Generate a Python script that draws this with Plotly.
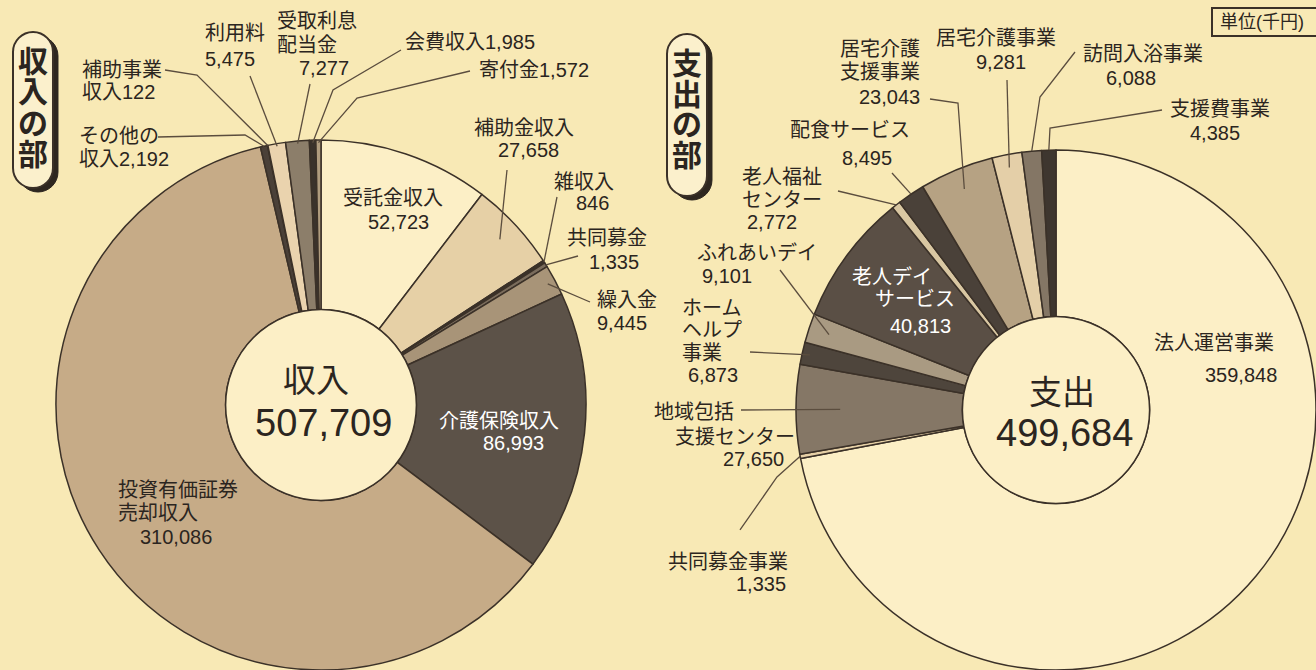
import math
import plotly.graph_objects as go

W, H = 1316, 670

# ---------------- data ----------------
income_labels = ["受託金収入", "補助金収入", "雑収入", "共同募金", "繰入金", "介護保険収入",
                 "投資有価証券売却収入", "その他の収入", "補助事業収入", "利用料",
                 "受取利息配当金", "会費収入", "寄付金"]
income_values = [52723, 27658, 846, 1335, 9445, 86993, 310086, 2192, 122, 5475, 7277, 1985, 1572]
income_title = "収入"
income_total = 507709

expense_labels = ["法人運営事業", "共同募金事業", "地域包括支援センター", "ホームヘルプ事業",
                  "ふれあいデイ", "老人デイサービス", "老人福祉センター", "配食サービス",
                  "居宅介護支援事業", "居宅介護事業", "訪問入浴事業", "支援費事業"]
expense_values = [359848, 1335, 27650, 6873, 9101, 40813, 2772, 8495, 23043, 9281, 6088, 4385]
expense_title = "支出"
expense_total = 499684

section_titles = ["収入の部", "支出の部"]
unit_label = "単位(千円)"

# ---------------- styles ----------------
BG = "#f8e9b5"
CREAM = "#fcefc6"
EDGE = "#3b3128"
TXT = "#2b2520"
LEAD = "#5b4d3e"
FONT = "Liberation Sans, Noto Sans CJK JP, sans-serif"

income_colors = ["#fcefc6", "#e6d0a6", "#3a322b", "#7a6c5c", "#a89478", "#5c5248",
                 "#c6ab87", "#4a4038", "#8a7a66", "#ead3ae", "#8c7e6a", "#3a322b", "#b09c7e"]
expense_colors = ["#fcefc6", "#e6d0a6", "#857766", "#4e453c", "#a99a82", "#5a4f45",
                  "#d9c7a2", "#4a4139", "#b6a283", "#e4cfa8", "#847665", "#3e362f"]

LEFT = dict(cx=321, cy=405, r=265)
RIGHT = dict(cx=1056, cy=410, r=260)
HOLE = 0.36


def px(x):
    return x / W


def py(y):
    return 1 - y / H


def domain(g):
    return dict(x=[max(0, (g["cx"] - g["r"]) / W), min(1, (g["cx"] + g["r"]) / W)],
                y=[max(0, (H - g["cy"] - g["r"]) / H), min(1, (H - g["cy"] + g["r"]) / H)])


def slice_point(g, values, i, f):
    tot = sum(values)
    cum = sum(values[:i]) + values[i] / 2
    a = 2 * math.pi * cum / tot
    return (g["cx"] + f * g["r"] * math.sin(a), g["cy"] - f * g["r"] * math.cos(a))


# label layout: text lines (text, x, y, anchor), leader path points, end radius factor
income_layout = {
    0: dict(lines=[("受託金収入", 393, 198, "center"), ("{v}", 398, 222, "center")]),
    1: dict(lines=[("補助金収入", 524, 128, "center"), ("{v}", 528, 150, "center")],
            path=[(507, 170)], f=0.92),
    2: dict(lines=[("雑収入", 584, 182, "center"), ("{v}", 592, 203, "center")],
            path=[(557, 197)], f=1.0),
    3: dict(lines=[("共同募金", 565, 238, "left"), ("{v}", 587, 262, "left")],
            path=[(578, 256)], f=1.0),
    4: dict(lines=[("繰入金", 595, 300, "left"), ("{v}", 595, 323, "left")],
            path=[(590, 302)], f=0.97),
    5: dict(lines=[("介護保険収入", 499, 421, "center"), ("{v}", 513, 443, "center")], color="#ffffff"),
    6: dict(lines=[("投資有価証券", 116, 490, "left"), ("売却収入", 116, 513, "left"),
                   ("{v}", 138, 537, "left")]),
    7: dict(lines=[("その他の", 77, 136, "left"), ("収入{v}", 77, 159, "left")],
            path=[(158, 137), (245, 135)], f=1.0),
    8: dict(lines=[("補助事業", 80, 70, "left"), ("収入{v}", 80, 92, "left")],
            path=[(165, 70), (197, 75)], f=1.0),
    9: dict(lines=[("利用料", 203, 33, "left"), ("{v}", 203, 59, "left")],
            path=[(250, 76)], f=0.99),
    10: dict(lines=[("受取利息", 275, 21, "left"), ("配当金", 275, 45, "left"), ("{v}", 297, 68, "left")],
             path=[(310, 84)], f=0.99),
    11: dict(lines=[("会費収入{v}", 403, 42, "left")],
             path=[(401, 50), (333, 90)], f=0.99),
    12: dict(lines=[("寄付金{v}", 477, 70, "left")],
             path=[(470, 71), (357, 98)], f=0.99),
}

expense_layout = {
    0: dict(lines=[("法人運営事業", 1214, 343, "center"), ("{v}", 1241, 375, "center")]),
    1: dict(lines=[("共同募金事業", 790, 562, "right"), ("{v}", 788, 584, "right")],
            path=[(740, 530), (777, 477)], f=1.0),
    2: dict(lines=[("地域包括", 652, 412, "left"), ("支援センター", 673, 437, "left"),
                   ("{v}", 786, 459, "right")],
            path=[(741, 410)], f=0.83),
    3: dict(lines=[("ホーム", 680, 308, "left"), ("ヘルプ", 680, 330, "left"),
                   ("事業", 680, 353, "left"), ("{v}", 686, 375, "left")],
            path=[(750, 352)], f=0.97),
    4: dict(lines=[("ふれあいデイ", 695, 253, "left"), ("{v}", 700, 276, "left")],
            path=[(780, 270)], f=0.92),
    5: dict(lines=[("老人デイ", 850, 277, "left"), ("サービス", 873, 299, "left"),
                   ("{v}", 888, 326, "left")], color="#ffffff"),
    6: dict(lines=[("老人福祉", 740, 177, "left"), ("センター", 740, 200, "left"),
                   ("{v}", 745, 222, "left")],
            path=[(838, 191)], f=1.0),
    7: dict(lines=[("配食サービス", 788, 130, "left"), ("{v}", 840, 158, "left")],
            path=[(892, 173)], f=1.0),
    8: dict(lines=[("居宅介護", 922, 49, "right"), ("支援事業", 922, 72, "right"),
                   ("{v}", 922, 97, "right")],
            path=[(930, 99), (958, 103)], f=0.92),
    9: dict(lines=[("居宅介護事業", 996, 38, "center"), ("{v}", 1001, 62, "center")],
            path=[(1007, 80)], f=0.95),
    10: dict(lines=[("訪問入浴事業", 1143, 54, "center"), ("{v}", 1131, 78, "center")],
             path=[(1075, 52), (1040, 97)], f=1.0),
    11: dict(lines=[("支援費事業", 1220, 109, "center"), ("{v}", 1215, 133, "center")],
             path=[(1162, 110), (1050, 128)], f=1.0),
}

fig = go.Figure()

for g, vals, labs, cols in [(LEFT, income_values, income_labels, income_colors),
                            (RIGHT, expense_values, expense_labels, expense_colors)]:
    fig.add_trace(go.Pie(
        values=vals, labels=labs, sort=False, direction="clockwise", rotation=0,
        hole=HOLE, domain=domain(g), textinfo="none", hoverinfo="label+value",
        showlegend=False,
        marker=dict(colors=cols, line=dict(color=EDGE, width=1.5)),
    ))

annotations = []
shapes = []


def add_text(x, y, s, anchor="left", color=TXT, size=20, bold=False):
    annotations.append(dict(
        x=px(x), y=py(y), xref="paper", yref="paper", text=("<b>%s</b>" % s) if bold else s,
        showarrow=False, xanchor=anchor, yanchor="middle",
        font=dict(family=FONT, size=size, color=color)))


for g, vals, lay in [(LEFT, income_values, income_layout), (RIGHT, expense_values, expense_layout)]:
    for i, spec in lay.items():
        vtxt = f"{vals[i]:,}"
        for (s, x, y, anc) in spec["lines"]:
            add_text(x, y, s.format(v=vtxt), anc, spec.get("color", TXT))
        if "path" in spec:
            pts = list(spec["path"]) + [slice_point(g, vals, i, spec["f"])]
            d = "M " + " L ".join("%.5f,%.5f" % (px(x), py(y)) for x, y in pts)
            shapes.append(dict(type="path", path=d, xref="paper", yref="paper",
                               line=dict(color=LEAD, width=1.3), layer="above"))

# center holes with outline
for g in (LEFT, RIGHT):
    rr = g["r"] * HOLE
    shapes.append(dict(type="circle", xref="paper", yref="paper",
                       x0=px(g["cx"] - rr), x1=px(g["cx"] + rr),
                       y0=py(g["cy"] + rr), y1=py(g["cy"] - rr),
                       fillcolor=CREAM, line=dict(color=EDGE, width=1.5), layer="above"))

add_text(LEFT["cx"] - 5, 380, income_title, "center", size=33)
add_text(LEFT["cx"] + 2, 423, f"{income_total:,}", "center", size=38)
add_text(RIGHT["cx"] + 6, 392, expense_title, "center", size=33)
add_text(RIGHT["cx"] + 8, 433, f"{expense_total:,}", "center", size=38)


# vertical section title boxes
def stadium(x0, y0, x1, y1):
    rr = (x1 - x0) / 2
    xc = (x0 + x1) / 2
    k = 0.5523 * rr
    P = lambda x, y: "%.5f,%.5f" % (px(x), py(y))
    return ("M " + P(x0, y0 + rr) +
            " C " + P(x0, y0 + rr - k) + " " + P(xc - k, y0) + " " + P(xc, y0) +
            " C " + P(xc + k, y0) + " " + P(x1, y0 + rr - k) + " " + P(x1, y0 + rr) +
            " L " + P(x1, y1 - rr) +
            " C " + P(x1, y1 - rr + k) + " " + P(xc + k, y1) + " " + P(xc, y1) +
            " C " + P(xc - k, y1) + " " + P(x0, y1 - rr + k) + " " + P(x0, y1 - rr) + " Z")


for title, (bx0, by0, bx1, by1) in zip(section_titles, [(13, 32, 53, 188), (667, 34, 707, 196)]):
    shapes.append(dict(type="path", path=stadium(bx0 + 5, by0 + 4, bx1 + 5, by1 + 4),
                       xref="paper", yref="paper", fillcolor="#2e2720",
                       line=dict(color="#2e2720", width=1), layer="above"))
    shapes.append(dict(type="path", path=stadium(bx0, by0, bx1, by1),
                       xref="paper", yref="paper", fillcolor="#fbf0cc",
                       line=dict(color=EDGE, width=2), layer="above"))
    xc = (bx0 + bx1) / 2
    for j, ch in enumerate(title):
        add_text(xc, by0 + 29 + j * 31, ch, "center", size=30, bold=True)

# unit box
shapes.append(dict(type="rect", xref="paper", yref="paper",
                   x0=px(1212), x1=px(1322), y0=py(36), y1=py(8),
                   line=dict(color=EDGE, width=2), fillcolor=BG, layer="above"))
add_text(1218, 22, unit_label, "left", size=18)

fig.update_layout(
    width=W, height=H, margin=dict(l=0, r=0, t=0, b=0),
    paper_bgcolor=BG, plot_bgcolor=BG,
    annotations=annotations, shapes=shapes,
    showlegend=False,
)

fig.write_html("out.html", config={"displayModeBar": False},
               post_script="document.body.style.margin='0';document.body.style.overflow='hidden';")
